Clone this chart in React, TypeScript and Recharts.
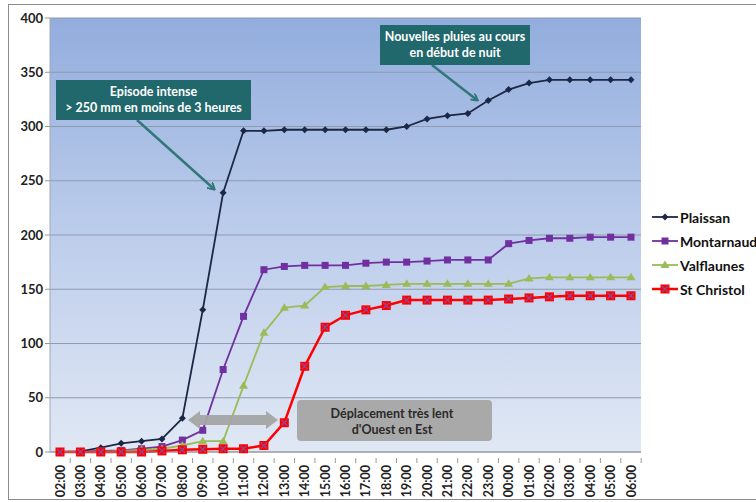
import { LineChart, Line, XAxis, YAxis, CartesianGrid } from 'recharts'

const HOURS = [
  '02:00', '03:00', '04:00', '05:00', '06:00', '07:00', '08:00', '09:00', '10:00', '11:00',
  '12:00', '13:00', '14:00', '15:00', '16:00', '17:00', '18:00', '19:00', '20:00', '21:00',
  '22:00', '23:00', '00:00', '01:00', '02:00', '03:00', '04:00', '05:00', '06:00',
]
const PLAISSAN = [0, 0.5, 4, 8, 10, 12, 31, 131, 239, 296, 296, 297, 297, 297, 297, 297, 297, 300, 307, 310, 312, 324, 334, 340, 343, 343, 343, 343, 343]
const MONTARNAUD = [0, 0, 1, 1.5, 3, 5, 11, 20, 76, 125, 168, 171, 172, 172, 172, 174, 175, 175, 176, 177, 177, 177, 192, 195, 197, 197, 198, 198, 198]
const VALFLAUNES = [0, 0, 0, 1, 2, 3, 6, 10, 10, 61, 110, 133, 135, 152, 153, 153, 154, 155, 155, 155, 155, 155, 155, 160, 161, 161, 161, 161, 161]
const ST_CHRISTOL = [0, 0, 0, 0, 0, 1, 2, 2.5, 3, 3, 6, 27, 79, 115, 126, 131, 135, 140, 140, 140, 140, 140, 141, 142, 143, 144, 144, 144, 144]
const Y_TICKS = [0, 50, 100, 150, 200, 250, 300, 350, 400]

const SERIES = [
  { key: 'plaissan', name: 'Plaissan', color: '#1b2745', width: 1.8, shape: 'diamond' },
  { key: 'montarnaud', name: 'Montarnaud', color: '#7030a0', width: 1.8, shape: 'square' },
  { key: 'valflaunes', name: 'Valflaunes', color: '#9bbb59', width: 1.8, shape: 'triangle' },
  { key: 'stchristol', name: 'St Christol', color: '#ff0000', width: 2.5, shape: 'xsquare' },
]

const data = HOURS.map((h, i) => ({
  hour: h,
  plaissan: PLAISSAN[i],
  montarnaud: MONTARNAUD[i],
  valflaunes: VALFLAUNES[i],
  stchristol: ST_CHRISTOL[i],
}))

const FONT = 'Lato, "Open Sans", sans-serif'

function Marker({ shape, color, cx, cy }: { shape: string; color: string; cx: number; cy: number }) {
  if (shape === 'diamond') {
    return <path d={`M${cx},${cy - 3.5}L${cx + 3.5},${cy}L${cx},${cy + 3.5}L${cx - 3.5},${cy}Z`} fill={color} />
  }
  if (shape === 'square') {
    return <rect x={cx - 3.5} y={cy - 3.5} width={7} height={7} fill={color} />
  }
  if (shape === 'triangle') {
    return <path d={`M${cx},${cy - 4.5}L${cx + 4.5},${cy + 3}L${cx - 4.5},${cy + 3}Z`} fill={color} />
  }
  return (
    <g>
      <rect x={cx - 4.5} y={cy - 4.5} width={9} height={9} fill={color} />
      <path d={`M${cx - 3},${cy - 3}L${cx + 3},${cy + 3}M${cx + 3},${cy - 3}L${cx - 3},${cy + 3}`} stroke="#8a4a9a" strokeWidth={1.3} />
    </g>
  )
}

function makeDot(shape: string, color: string) {
  return (props: any) => {
    const { cx, cy, index } = props
    if (cx == null || cy == null) return <g key={index} />
    return <Marker key={index} shape={shape} color={color} cx={cx} cy={cy} />
  }
}

function XTick(props: any) {
  const { x, y, payload } = props
  return (
    <g>
      <line x1={x + 10.2} x2={x + 10.2} y1={y - 2} y2={y + 3} stroke="#999" />
      <text
        x={0}
        y={0}
        transform={`translate(${x + 4.5},${y + 5}) rotate(-90)`}
        textAnchor="end"
        fontFamily={FONT}
        fontWeight="bold"
        fontSize={12.5}
        fill="#222"
      >
        {payload.value}
      </text>
    </g>
  )
}

function LegendBox() {
  return (
    <div style={{ position: 'absolute', left: 652, top: 205, fontFamily: FONT, fontWeight: 'bold', fontSize: 14, color: '#111' }}>
      {SERIES.map(s => (
        <div key={s.key} style={{ display: 'flex', alignItems: 'center', height: 24 }}>
          <svg width={26} height={14} style={{ marginRight: 2 }}>
            <line x1={0} x2={26} y1={7} y2={7} stroke={s.color} strokeWidth={s.width} />
            <Marker shape={s.shape} color={s.color} cx={13} cy={7} />
          </svg>
          <span>{s.name}</span>
        </div>
      ))}
    </div>
  )
}

export default function App() {
  return (
    <div style={{ position: 'absolute', left: 0, top: 0, width: 756, height: 502, background: '#fff', overflow: 'hidden' }}>
      <div style={{ position: 'absolute', left: 8, top: 4, width: 760, height: 496, border: '1px solid #8c8c8c', boxSizing: 'border-box' }} />
      <LineChart width={756} height={502} data={data} margin={{ top: 18, right: 115, bottom: 0, left: 0 }}>
        <defs>
          <linearGradient id="plotBg" x1="0" y1="0" x2="0" y2="1">
            <stop offset="0%" stopColor="#92addd" />
            <stop offset="45%" stopColor="#b9caea" />
            <stop offset="100%" stopColor="#e0e8f4" />
          </linearGradient>
        </defs>
        <CartesianGrid vertical={false} stroke="#8d9ab0" fill="url(#plotBg)" fillOpacity={1} />
        <XAxis
          dataKey="hour"
          padding={{ left: 10, right: 10 }}
          height={50}
          interval={0}
          tickLine={false}
          axisLine={{ stroke: '#999' }}
          tick={<XTick />}
        />
        <YAxis
          domain={[0, 400]}
          ticks={Y_TICKS}
          width={50}
          interval={0}
          axisLine={{ stroke: '#a0a8b8' }}
          tickLine={{ stroke: '#999' }}
          tickSize={5}
          tick={{ fontFamily: FONT, fontWeight: 'bold', fontSize: 13, fill: '#222' }}
        />
        {SERIES.map(s => (
          <Line
            key={s.key}
            type="linear"
            dataKey={s.key}
            name={s.name}
            stroke={s.color}
            strokeWidth={s.width}
            dot={makeDot(s.shape, s.color)}
            activeDot={false}
            isAnimationActive={false}
          />
        ))}
      </LineChart>
      <LegendBox />
      <svg width={756} height={502} style={{ position: 'absolute', left: 0, top: 0, pointerEvents: 'none' }}>
        <defs>
          <marker id="tealHead" markerWidth="8" markerHeight="8" refX="6" refY="4" orient="auto" markerUnits="userSpaceOnUse">
            <path d="M0,0 L7,4 L0,8" fill="none" stroke="#31777b" strokeWidth={2} />
          </marker>
        </defs>
        <line x1={137} y1={120} x2={214} y2={189} stroke="#31777b" strokeWidth={2.5} markerEnd="url(#tealHead)" />
        <line x1={432} y1={65} x2={477} y2={100} stroke="#31777b" strokeWidth={2.5} markerEnd="url(#tealHead)" />
        <rect x={56} y={80} width={195} height={40} fill="#21686c" />
        <text x={153.5} y={96} textAnchor="middle" fill="#fff" fontFamily={FONT} fontWeight="bold" fontSize={12.5}>Episode intense</text>
        <text x={153.5} y={112} textAnchor="middle" fill="#fff" fontFamily={FONT} fontWeight="bold" fontSize={12.5}>{'> 250 mm en moins de 3 heures'}</text>
        <rect x={380} y={25} width={150} height={40} fill="#21686c" />
        <text x={455} y={41} textAnchor="middle" fill="#fff" fontFamily={FONT} fontWeight="bold" fontSize={12.5}>Nouvelles pluies au cours</text>
        <text x={455} y={57} textAnchor="middle" fill="#fff" fontFamily={FONT} fontWeight="bold" fontSize={12.5}>en début de nuit</text>
        <path
          d="M188,420 L200,411 L200,415 L266,415 L266,411 L278,420 L266,429 L266,425 L200,425 L200,429 Z"
          fill="#a4a4a4"
          opacity={0.95}
        />
        <rect x={297} y={400} width={195} height={41} rx={4} fill="#a9a9a9" />
        <text x={392} y={418} textAnchor="middle" fill="#2a2a2a" fontFamily={FONT} fontWeight="bold" fontSize={12.5}>Déplacement très lent</text>
        <text x={392} y={434} textAnchor="middle" fill="#2a2a2a" fontFamily={FONT} fontWeight="bold" fontSize={12.5}>d'Ouest en Est</text>
      </svg>
    </div>
  )
}
